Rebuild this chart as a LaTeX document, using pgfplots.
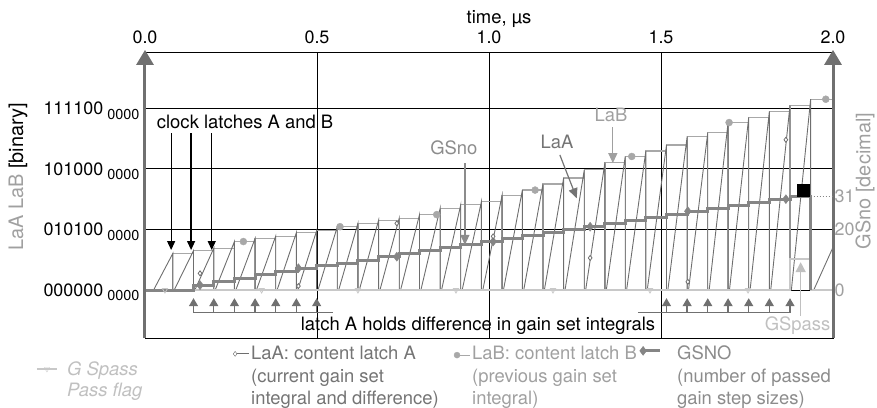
\documentclass[border=0pt]{standalone}
\usepackage{fontspec}
\setmainfont{TeX Gyre Heros}
\usepackage{pgfplots}
\pgfplotsset{compat=1.18}
\usetikzlibrary{arrows.meta}
\definecolor{cA}{HTML}{6E6E6E}
\definecolor{cB}{HTML}{A8A8A8}
\definecolor{cG}{HTML}{858585}
\definecolor{cP}{HTML}{C8C8C8}
\definecolor{cAx}{HTML}{707070}
\definecolor{tA}{HTML}{747474}
\definecolor{tB}{HTML}{A0A0A0}
\definecolor{tG}{HTML}{8C8C8C}
\definecolor{tP}{HTML}{C0C0C0}
\newcommand{\legfont}{\fontsize{18.5}{22.5}\selectfont}
\newcommand{\binlab}[1]{#1\hspace{4bp}\raisebox{-4.5bp}{\fontsize{14.5}{15}\selectfont 0000}}
\begin{document}
\begin{tikzpicture}[font=\fontsize{18.5}{22}\selectfont]
\useasboundingbox (-145bp,-70bp) rectangle (732bp,338bp);
\begin{axis}[
  scale only axis, width=688bp, height=286bp,
  xmin=0, xmax=2, ymin=-15.85, ymax=78.6,
  clip=false,
  axis line style={black, line width=0.8bp},
  xtick={0,0.5,1,1.5,2}, xticklabels={0.0,0.5,1.0,1.5,2.0},
  xticklabel pos=right,
  ytick={0,20,40,60},
  yticklabels={\binlab{000000},\binlab{010100},\binlab{101000},\binlab{111100}},
  major tick length=0pt,
  xmajorgrids, ymajorgrids,
  major grid style={black, line width=0.8bp},
  /pgf/number format/assume math mode=true,
  tick label style={font=\fontsize{18}{22}\selectfont},
  xticklabel style={anchor=base, yshift=8bp},
  yticklabel style={anchor=base east, yshift=-6.4bp, xshift=-2bp},
  xlabel={time, µs},
  xlabel style={at={(axis description cs:0.5145,1)}, anchor=center, yshift=33bp},
  ylabel={{\color{tB}LaA LaB} [binary]},
  ylabel style={at={([xshift=-127bp]axis description cs:0,0.563)}, anchor=center, font=\fontsize{20}{24}\selectfont},
]
% LaB: content latch B
\addplot[forget plot, color=cB, line width=1.2bp] coordinates {
(0,0) (0.081,0) (0.081,12.1)
(0.141,12.1) (0.141,0) (0.141,13.0)
(0.200,13.0) (0.200,0) (0.200,13.8)
(0.260,13.8) (0.260,0) (0.260,16.0)
(0.320,16.0) (0.320,0) (0.320,17.0)
(0.380,17.0) (0.380,0) (0.380,17.8)
(0.440,17.8) (0.440,0) (0.440,18.9)
(0.499,18.9) (0.499,0) (0.499,19.6)
(0.559,19.6) (0.559,0) (0.559,20.9)
(0.619,20.9) (0.619,0) (0.619,22.0)
(0.679,22.0) (0.679,0) (0.679,23.0)
(0.739,23.0) (0.739,0) (0.739,23.7)
(0.798,23.7) (0.798,0) (0.798,24.9)
(0.858,24.9) (0.858,0) (0.858,27.0)
(0.918,27.0) (0.918,0) (0.918,28.2)
(0.978,28.2) (0.978,0) (0.978,29.2)
(1.038,29.2) (1.038,0) (1.038,31.2)
(1.097,31.2) (1.097,0) (1.097,33.0)
(1.157,33.0) (1.157,0) (1.157,35.0)
(1.217,35.0) (1.217,0) (1.217,37.0)
(1.277,37.0) (1.277,0) (1.277,39.7)
(1.337,39.7) (1.337,0) (1.337,42.1)
(1.396,42.1) (1.396,0) (1.396,44.1)
(1.456,44.1) (1.456,0) (1.456,45.9)
(1.516,45.9) (1.516,0) (1.516,47.9)
(1.576,47.9) (1.576,0) (1.576,50.7)
(1.636,50.7) (1.636,0) (1.636,52.0)
(1.695,52.0) (1.695,0) (1.695,55.3)
(1.755,55.3) (1.755,0) (1.755,57.0)
(1.815,57.0) (1.815,0) (1.815,59.0)
(1.875,59.0) (1.875,0) (1.875,61.0)
(1.935,61.0) (1.935,0) (1.935,63.0)
(2.0,63.0)};
% LaA: content latch A
\addplot[forget plot, color=cA, line width=0.9bp] coordinates {
(0,0) (0.025,0)
(0.081,12.1) (0.081,0) (0.085,0)
(0.141,13.0) (0.141,0) (0.145,0)
(0.200,13.8) (0.200,0) (0.204,0)
(0.260,16.0) (0.260,0) (0.264,0)
(0.320,17.0) (0.320,0) (0.324,0)
(0.380,17.8) (0.380,0) (0.384,0)
(0.440,18.9) (0.440,0) (0.444,0)
(0.499,19.6) (0.499,0) (0.503,0)
(0.559,20.9) (0.559,0) (0.563,0)
(0.619,22.0) (0.619,0) (0.623,0)
(0.679,23.0) (0.679,0) (0.683,0)
(0.739,23.7) (0.739,0) (0.743,0)
(0.798,24.9) (0.798,0) (0.802,0)
(0.858,27.0) (0.858,0) (0.862,0)
(0.918,28.2) (0.918,0) (0.922,0)
(0.978,29.2) (0.978,0) (0.982,0)
(1.038,31.2) (1.038,0) (1.042,0)
(1.097,33.0) (1.097,0) (1.101,0)
(1.157,35.0) (1.157,0) (1.161,0)
(1.217,37.0) (1.217,0) (1.221,0)
(1.277,39.7) (1.277,0) (1.281,0)
(1.337,42.1) (1.337,0) (1.341,0)
(1.396,44.1) (1.396,0) (1.400,0)
(1.456,45.9) (1.456,0) (1.460,0)
(1.516,47.9) (1.516,0) (1.520,0)
(1.576,50.7) (1.576,0) (1.580,0)
(1.636,52.0) (1.636,0) (1.640,0)
(1.695,55.3) (1.695,0) (1.699,0)
(1.755,57.0) (1.755,0) (1.759,0)
(1.815,59.0) (1.815,0) (1.819,0)
(1.875,61.0) (1.875,0) (1.879,0)
(1.935,63.0) (1.935,0) (1.944,0)
(1.994,12.6) (2.0,14.1)};
% G Spass pass flag
\addplot[forget plot, color=cP, line width=2bp] coordinates {(0,0) (1.875,0) (1.875,10.2) (1.935,10.2) (1.935,0) (2.0,0)};
\addplot[forget plot, only marks, color=cP, mark=triangle, mark size=3bp, mark options={rotate=180, fill=white, line width=0.8bp}] coordinates {(0.058,0) (0.339,0) (0.619,0) (0.904,0) (1.186,0) (1.468,0) (1.753,0)};
% GSNO
\addplot[forget plot, const plot, color=cG, line width=3bp] coordinates {
(0,0) (0.141,1.6) (0.200,2.7) (0.260,3.9) (0.320,5.1) (0.380,6.2) (0.440,7.2) (0.499,8.0) (0.559,8.9) (0.619,9.9) (0.679,11.0) (0.739,12.0) (0.798,13.0) (0.858,14.0) (0.918,15.0) (0.978,16.0) (1.038,17.0) (1.097,17.9) (1.157,18.9) (1.217,19.9) (1.277,20.9) (1.337,21.9) (1.396,22.9) (1.456,23.9) (1.516,24.9) (1.576,26.0) (1.636,27.0) (1.695,28.0) (1.755,29.0) (1.815,30.0) (1.875,31.0) (1.935,0)};
\addplot[forget plot, only marks, color=cG, mark=diamond*, mark size=4.5bp] coordinates {(0.160,1.6) (0.446,7.2) (0.732,11.0) (1.012,16.0) (1.294,20.9) (1.578,26.0) (1.863,30.0)};
\addplot[forget plot, only marks, color=cB, mark=*, mark size=3.5bp] coordinates {(0.286,16.0) (0.567,20.9) (0.848,24.9) (1.134,33.0) (1.415,44.1) (1.698,55.3) (1.979,63.0)};
\addplot[forget plot, only marks, color=cA, mark=diamond*, mark size=2.5bp, mark options={fill=white, line width=0.8bp}] coordinates {(0.160,5.5) (0.446,1.3) (0.732,22.0) (1.012,17.7) (1.294,10.6) (1.578,2.7) (1.863,49.6)};
\addplot[forget plot, only marks, color=black, mark=square*, mark size=6bp] coordinates {(1.912,32.8)};
% axes arrows
\draw[cAx, line width=3bp, -{Triangle[length=15bp,width=17bp]}] (0,-15.85) -- (0,79.3);
\draw[cAx, line width=3bp, -{Triangle[length=15bp,width=17bp]}] (2,-15.85) -- (2,79.3);
\draw[cG, dotted, line width=1bp] (1.935,31) -- (2,31);
% clock annotation
\node[anchor=west, inner sep=0pt] at (0.034,55.5) {clock latches A and B};
\draw[black, line width=1.2bp, -{Triangle[length=9bp,width=8bp]}] (0.076,51.8) -- (0.076,13.2);
\draw[black, line width=1.2bp, -{Triangle[length=9bp,width=8bp]}] (0.134,51.8) -- (0.134,13.2);
\draw[black, line width=1.2bp, -{Triangle[length=9bp,width=8bp]}] (0.194,51.8) -- (0.194,13.2);
% GSno, LaA, LaB labels
\node[tG, inner sep=0pt] at (0.898,46.9) {GSno};
\draw[tG, line width=1.2bp, -{Triangle[length=10bp,width=9bp]}] (0.930,41.9) -- (0.930,14.9);
\node[tA, inner sep=0pt] at (1.198,48.9) {LaA};
\draw[tA, line width=1.2bp, -{Triangle[length=10bp,width=9bp]}] (1.206,44.6) -- (1.255,30.3);
\node[tB, inner sep=0pt] at (1.355,57.8) {LaB};
\draw[tB, line width=1.2bp, -{Triangle[length=10bp,width=9bp]}] (1.360,53.8) -- (1.360,41.9);
% latch A holds difference
\draw[cAx, line width=1.3bp] (0.140,-7.5) -- (0.547,-7.5);
\draw[cAx, line width=1.3bp, -{Triangle[length=8bp,width=9bp]}] (0.141,-7.5) -- (0.141,-2.7);
\draw[cAx, line width=1.3bp, -{Triangle[length=8bp,width=9bp]}] (0.200,-7.5) -- (0.200,-2.7);
\draw[cAx, line width=1.3bp, -{Triangle[length=8bp,width=9bp]}] (0.260,-7.5) -- (0.260,-2.7);
\draw[cAx, line width=1.3bp, -{Triangle[length=8bp,width=9bp]}] (0.320,-7.5) -- (0.320,-2.7);
\draw[cAx, line width=1.3bp, -{Triangle[length=8bp,width=9bp]}] (0.380,-7.5) -- (0.380,-2.7);
\draw[cAx, line width=1.3bp, -{Triangle[length=8bp,width=9bp]}] (0.440,-7.5) -- (0.440,-2.7);
\draw[cAx, line width=1.3bp, -{Triangle[length=8bp,width=9bp]}] (0.499,-7.5) -- (0.499,-2.7);
\draw[cAx, line width=1.3bp] (1.433,-7.5) -- (1.875,-7.5);
\draw[cAx, line width=1.3bp, -{Triangle[length=8bp,width=9bp]}] (1.516,-7.5) -- (1.516,-2.7);
\draw[cAx, line width=1.3bp, -{Triangle[length=8bp,width=9bp]}] (1.576,-7.5) -- (1.576,-2.7);
\draw[cAx, line width=1.3bp, -{Triangle[length=8bp,width=9bp]}] (1.636,-7.5) -- (1.636,-2.7);
\draw[cAx, line width=1.3bp, -{Triangle[length=8bp,width=9bp]}] (1.695,-7.5) -- (1.695,-2.7);
\draw[cAx, line width=1.3bp, -{Triangle[length=8bp,width=9bp]}] (1.755,-7.5) -- (1.755,-2.7);
\draw[cAx, line width=1.3bp, -{Triangle[length=8bp,width=9bp]}] (1.815,-7.5) -- (1.815,-2.7);
\draw[cAx, line width=1.3bp, -{Triangle[length=8bp,width=9bp]}] (1.875,-7.5) -- (1.875,-2.7);
\node[inner sep=0pt] at (0.968,-11.9) {latch A holds difference in gain set integrals};
% GSpass
\draw[tP, line width=1.5bp, -{Triangle[length=10bp,width=10bp]}] (1.906,-8.6) -- (1.906,9.2);
\node[tP, inner sep=0pt] at (1.897,-11.9) {GSpass};
% legend (samples drawn through the axis)
\addplot[forget plot, color=cP, line width=1.2bp] coordinates {(-0.314,-26.1) (-0.256,-26.1)};
\addplot[forget plot, only marks, color=cP, mark=triangle, mark size=3bp, mark options={rotate=180, fill=white}] coordinates {(-0.285,-26.1)};
\node[anchor=base west, inner sep=0pt, text=tP] at (-0.2267,-28.2) {\parbox[t]{100bp}{\fontsize{18.5}{21.5}\selectfont\itshape G Spass\\Pass flag}};
\addplot[forget plot, color=cA, line width=0.9bp] coordinates {(0.262,-21.1) (0.302,-21.1)};
\addplot[forget plot, only marks, color=cA, mark=diamond*, mark size=2.5bp, mark options={fill=white}] coordinates {(0.262,-21.1)};
\node[anchor=base west, inner sep=0pt, text=tA] at (0.3081,-23.0) {\parbox[t]{200bp}{\legfont LaA: content latch A\\(current gain set\\integral and difference)}};
\addplot[forget plot, color=cB, line width=1.2bp] coordinates {(0.907,-21.5) (0.945,-21.5)};
\addplot[forget plot, only marks, color=cB, mark=*, mark size=3bp] coordinates {(0.907,-21.5)};
\node[anchor=base west, inner sep=0pt, text=tB] at (0.9506,-23.0) {\parbox[t]{170bp}{\legfont LaB: content latch B\\(previous gain set\\integral)}};
\addplot[forget plot, color=cG, line width=3bp] coordinates {(1.448,-20.1) (1.497,-20.1)};
\addplot[forget plot, only marks, color=cG, mark=diamond*, mark size=4.5bp] coordinates {(1.448,-20.1)};
\node[anchor=base west, inner sep=0pt, text=tG] at (1.5465,-23.0) {\parbox[t]{160bp}{\legfont GSNO\\(number of passed\\gain step sizes)}};
\end{axis}
\begin{axis}[
  scale only axis, width=688bp, height=286bp,
  xmin=0, xmax=2, ymin=-15.85, ymax=78.6,
  axis x line=none, axis y line*=right,
  y axis line style={draw=none},
  ytick={0,20,31}, yticklabels={0,20,31},
  major tick length=0pt,
  /pgf/number format/assume math mode=true,
  yticklabel style={font=\fontsize{18}{22}\selectfont, color=tB, xshift=-2bp},
  ylabel={GSno [decimal]},
  ylabel style={at={([xshift=32bp]axis description cs:1,0.549)}, anchor=center, font=\fontsize{20}{24}\selectfont, color=tB},
]
\end{axis}
\end{tikzpicture}
\end{document}
